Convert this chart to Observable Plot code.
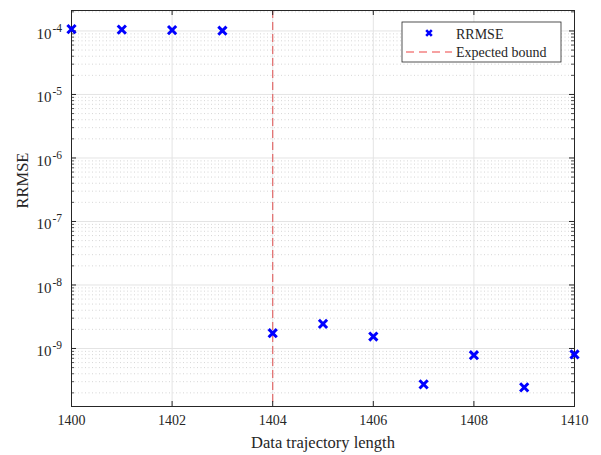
<!DOCTYPE html>
<html>
<head>
<meta charset="utf-8">
<script src="https://cdn.jsdelivr.net/npm/d3@7"></script>
<script src="https://cdn.jsdelivr.net/npm/@observablehq/plot@0.6"></script>
<style>
  body { margin: 0; background: #fff; }
  #chart { position: relative; width: 601px; height: 455px; }
</style>
</head>
<body>
<div id="chart"></div>
<script>
const lengths = [1400, 1401, 1402, 1403, 1404, 1405, 1406, 1407, 1408, 1409, 1410];
const rrmse = [1.07e-4, 1.05e-4, 1.03e-4, 1.01e-4, 1.74e-9, 2.44e-9, 1.54e-9, 2.72e-10, 7.85e-10, 2.44e-10, 8.05e-10];
const boundX = [1404];
const xTicks = [1400, 1402, 1404, 1406, 1408, 1410];
const yExponents = [-9, -8, -7, -6, -5, -4];
const yDomain = [1.22e-10, 2.1e-4];

const data = lengths.map((x, i) => ({x, y: rrmse[i]}));
const yMajor = yExponents.map(e => Math.pow(10, e));
const yMinor = [];
for (let e = -10; e <= -4; e++) {
  for (let k = 2; k <= 9; k++) {
    const v = k * Math.pow(10, e);
    if (v > yDomain[0] && v < yDomain[1]) yMinor.push(v);
  }
}

const W = 601, H = 455;
const mL = 71, mR = 27, mT = 10, mB = 49;
const innerH = H - mT - mB, innerW = W - mL - mR;
const axisColor = "#262626";
const font = "'Liberation Serif', 'Times New Roman', serif";

const plot = Plot.plot({
  width: W,
  height: H,
  marginLeft: mL,
  marginRight: mR,
  marginTop: mT,
  marginBottom: mB,
  style: {fontFamily: font, background: "#fff"},
  x: {domain: [1400, 1410], axis: null},
  y: {type: "log", domain: yDomain, axis: null},
  marks: [
    // grid
    Plot.ruleY(yMinor, {y: d => d, stroke: "#c4c4c4", strokeWidth: 0.7, strokeDasharray: "1,2.5"}),
    Plot.ruleY(yMajor, {y: d => d, stroke: "#e4e4e4", strokeWidth: 1}),
    Plot.ruleX(xTicks, {x: d => d, stroke: "#e4e4e4", strokeWidth: 1}),
    // bound
    Plot.ruleX(boundX, {x: d => d, stroke: "#e26a6a", strokeWidth: 1.2, strokeDasharray: "8,4"}),
    // frame and ticks
    Plot.frame({stroke: axisColor, strokeWidth: 1}),
    Plot.tickX(xTicks, {x: d => d, stroke: axisColor, insetTop: innerH - 5}),
    Plot.tickX(xTicks, {x: d => d, stroke: axisColor, insetBottom: innerH - 5}),
    Plot.tickY(yMajor, {y: d => d, stroke: axisColor, insetRight: innerW - 5}),
    Plot.tickY(yMajor, {y: d => d, stroke: axisColor, insetLeft: innerW - 5}),
    Plot.tickY(yMinor, {y: d => d, stroke: axisColor, strokeWidth: 0.8, insetRight: innerW - 3}),
    Plot.tickY(yMinor, {y: d => d, stroke: axisColor, strokeWidth: 0.8, insetLeft: innerW - 3}),
    // tick labels
    Plot.text(xTicks, {x: d => d, frameAnchor: "bottom", dy: 18, text: d => String(d), fontSize: 14, fill: axisColor}),
    Plot.text(yExponents, {y: e => Math.pow(10, e), frameAnchor: "left", dx: -20, dy: 3, text: () => "10", textAnchor: "end", fontSize: 15, fill: axisColor}),
    Plot.text(yExponents, {y: e => Math.pow(10, e), frameAnchor: "left", dx: -19, dy: -3, text: e => "-" + Math.abs(e), textAnchor: "start", fontSize: 11.5, fill: axisColor}),
    // axis labels
    Plot.text(["Data trajectory length"], {frameAnchor: "bottom", dy: 41, text: d => d, fontSize: 16.5, fill: axisColor}),
    Plot.text(["RRMSE"], {frameAnchor: "left", dx: -49, text: d => d, rotate: -90, fontSize: 16.5, fill: axisColor}),
    // data
    Plot.dot(data, {x: "x", y: "y", symbol: "times", r: 3.8, stroke: "#0000ff", strokeWidth: 3})
  ]
});

document.getElementById("chart").appendChild(plot);

// legend
const svg = d3.select(plot);
const lg = svg.append("g").attr("font-family", font).attr("fill", axisColor).attr("text-anchor", "start");
lg.append("rect").attr("x", 402).attr("y", 22).attr("width", 159).attr("height", 40)
  .attr("fill", "#fff").attr("stroke", axisColor).attr("stroke-width", 0.8);
const mx = 429, my = 33, s = 2.8;
lg.append("path").attr("d", `M${mx-s},${my-s}L${mx+s},${my+s}M${mx-s},${my+s}L${mx+s},${my-s}`)
  .attr("stroke", "#0000ff").attr("stroke-width", 2.6).attr("fill", "none");
lg.append("text").attr("x", 456).attr("y", 34).attr("dy", "0.35em").attr("font-size", 14).attr("text-anchor", "start").text("RRMSE");
lg.append("line").attr("x1", 406).attr("x2", 452).attr("y1", 52).attr("y2", 52)
  .attr("stroke", "#ee4444").attr("stroke-width", 1.1).attr("stroke-dasharray", "8,5");
lg.append("text").attr("x", 456).attr("y", 52).attr("dy", "0.35em").attr("font-size", 14).attr("text-anchor", "start").text("Expected bound");
</script>
</body>
</html>
